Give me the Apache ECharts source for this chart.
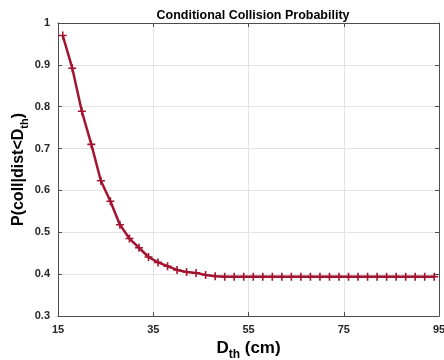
<!DOCTYPE html>
<html>
<head>
<meta charset="utf-8">
<script src="https://cdn.jsdelivr.net/npm/echarts@6/dist/echarts.min.js"></script>
<style>html,body{margin:0;padding:0;background:#fff}#c{width:444px;height:360px}</style>
</head>
<body>
<div id="c"></div>
<script>
const distances = [16,18,20,22,24,26,28,30,32,34,36,38,40,42,44,46,48,50,52,54,56,58,60,62,64,66,68,70,72,74,76,78,80,82,84,86,88,90,92,94];
const probability = [0.970,0.892,0.789,0.710,0.623,0.574,0.518,0.485,0.463,0.441,0.428,0.419,0.410,0.405,0.403,0.398,0.395,0.394,0.394,0.394,0.394,0.394,0.394,0.394,0.394,0.394,0.394,0.394,0.394,0.394,0.394,0.394,0.394,0.394,0.394,0.394,0.394,0.394,0.394,0.394];
const xTicks = [15,35,55,75,95];
const yTicks = [0.3,0.4,0.5,0.6,0.7,0.8,0.9,1];

const chart = echarts.init(document.getElementById('c'));
const font = 'Liberation Sans, Arial, sans-serif';
const axisColor = '#4d4d4d';
const plus = 'path://M4,0H6V4H10V6H6V10H4V6H0V4H4Z';
chart.setOption({
  animation: false,
  title: {
    text: 'Conditional Collision Probability',
    left: 248, top: 4, textAlign: 'center',
    textStyle: {fontFamily: font, fontWeight: 'bold', fontSize: 12.5, color: '#000'}
  },
  grid: {left: 58, right: 5, top: 23, bottom: 44, outerBoundsMode: 'none', containLabel: false},
  xAxis: [{
    type: 'value', min: xTicks[0], max: xTicks[xTicks.length-1], interval: 20,
    name: '{m|D}{s|th}{m| (cm)}', nameLocation: 'middle', nameGap: 20,
    nameTextStyle: {rich: {
      m: {fontFamily: font, fontWeight: 'bold', fontSize: 17, color: '#000'},
      s: {fontFamily: font, fontWeight: 'bold', fontSize: 12, color: '#000', padding: [12,0,0,0]}
    }},
    axisLine: {lineStyle: {color: axisColor, width: 1}},
    axisTick: {inside: true, length: 4, lineStyle: {color: axisColor}},
    axisLabel: {fontFamily: font, fontWeight: 'bold', fontSize: 11, color: '#262626', margin: 8},
    splitLine: {show: true, lineStyle: {color: '#e3e3e3'}}
  }, {
    type: 'value', position: 'top', min: xTicks[0], max: xTicks[xTicks.length-1], interval: 20,
    axisLine: {lineStyle: {color: axisColor}},
    axisTick: {inside: true, length: 4, lineStyle: {color: axisColor}},
    axisLabel: {show: false}, splitLine: {show: false}
  }],
  yAxis: [{
    type: 'value', min: yTicks[0], max: yTicks[yTicks.length-1], interval: 0.1,
    name: '{m|P(coll|dist<D}{s|th}{m|)}', nameLocation: 'middle', nameGap: 28, nameRotate: 90,
    nameMoveOverlap: false,
    nameTextStyle: {rich: {
      m: {fontFamily: font, fontWeight: 'bold', fontSize: 16, color: '#000'},
      s: {fontFamily: font, fontWeight: 'bold', fontSize: 11, color: '#000', padding: [12,0,0,0]}
    }},
    axisLine: {show: true, lineStyle: {color: axisColor, width: 1}},
    axisTick: {show: true, inside: true, length: 4, lineStyle: {color: axisColor}},
    axisLabel: {fontFamily: font, fontWeight: 'bold', fontSize: 11, color: '#262626', margin: 8,
      formatter: v => (Math.round(v*10)/10).toString()},
    splitLine: {show: true, lineStyle: {color: '#e3e3e3'}}
  }, {
    type: 'value', position: 'right', min: yTicks[0], max: yTicks[yTicks.length-1], interval: 0.1,
    axisLine: {show: true, lineStyle: {color: axisColor}},
    axisTick: {show: true, inside: true, length: 4, lineStyle: {color: axisColor}},
    axisLabel: {show: false}, splitLine: {show: false}
  }],
  series: [{
    type: 'line',
    data: distances.map((d, i) => [d, probability[i]]),
    symbol: plus, symbolSize: 8,
    lineStyle: {color: '#A2142F', width: 2.5},
    itemStyle: {color: '#A2142F'},
    smooth: false
  }]
});
</script>
</body>
</html>
